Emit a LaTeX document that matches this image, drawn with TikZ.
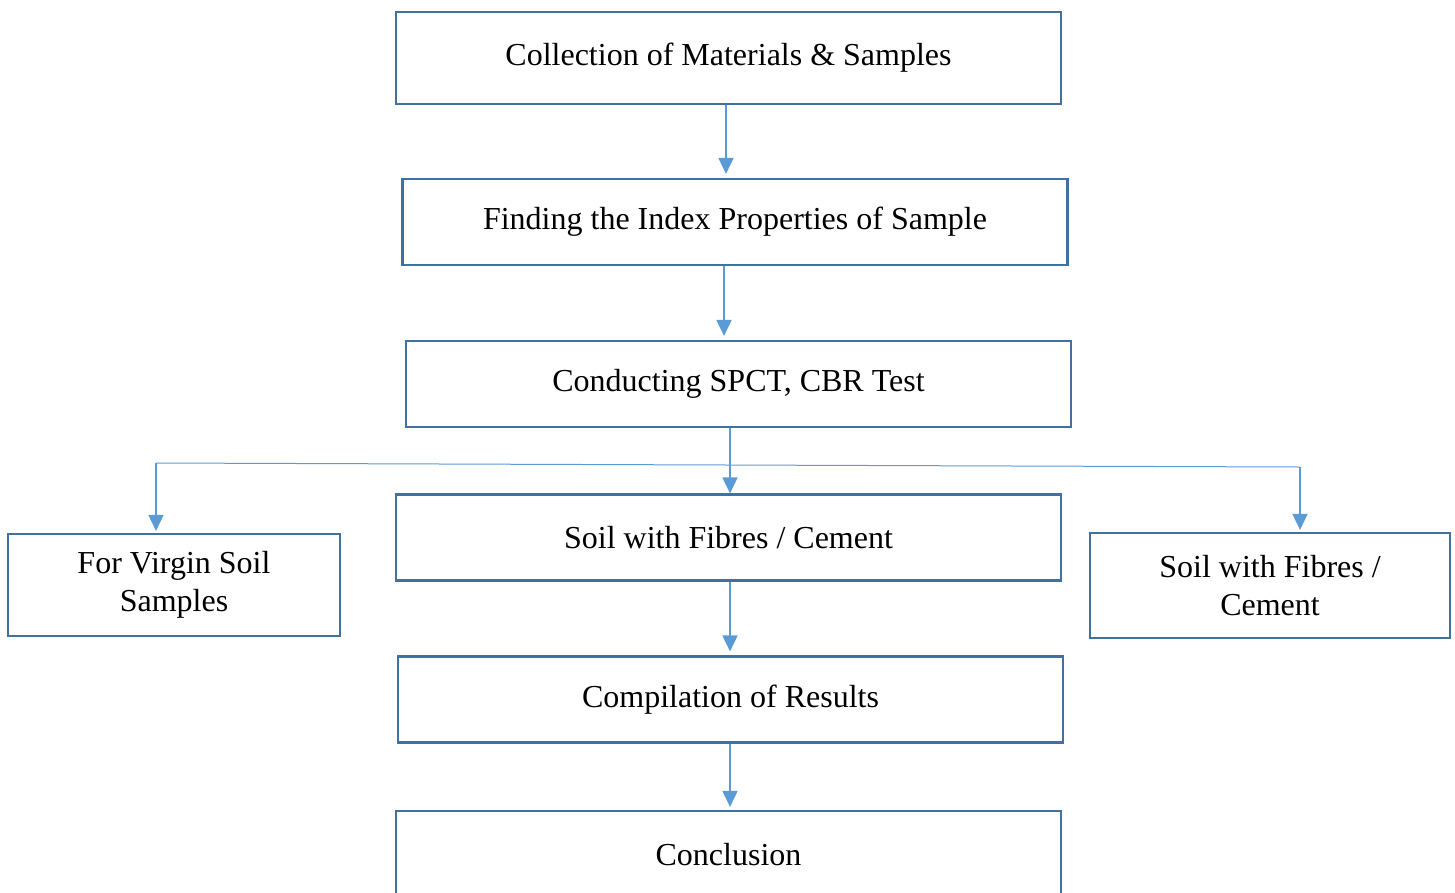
\documentclass[tikz,border=0pt]{standalone}
\usepackage{fontspec}
\setmainfont{Liberation Serif}
\usepackage{tikz}
\usetikzlibrary{calc}
\usetikzlibrary{arrows.meta}
\usetikzlibrary{positioning}
\definecolor{boxblue}{RGB}{65,113,156}
\definecolor{linkblue}{RGB}{91,155,213}

\begin{document}
\begin{tikzpicture}[x=1pt, y=-1pt,
		stagebox/.style={draw=boxblue, line width=2.2pt, minimum width=665pt, minimum height=86pt, align=center, font=\fontsize{32}{38}\selectfont},
		sidebox/.style={stagebox, minimum height=102pt},
		link/.style={linkblue, line width=1.8pt, -{Triangle[width=15pt,length=16pt]}}]
		\useasboundingbox (0,0) rectangle (1455,892);
		\clip (0,0) rectangle (1455,892);

		\node[stagebox, minimum height=92pt] (collect) at (728.5,58) {Collection of Materials \& Samples};
		\node[stagebox] (index) at (735,222) {Finding the Index Properties of Sample};
		\node[stagebox] (tests) at (738.5,384) {Conducting SPCT, CBR Test};
		\node[stagebox] (fibres) at (728.5,537.5) {Soil with Fibres / Cement};
		\node[sidebox, minimum width=332pt] (virgin) at (174,585) {For Virgin Soil\\Samples};
		\node[sidebox, minimum width=360pt, minimum height=105pt] (fibresr) at (1270,585.5) {Soil with Fibres /\\Cement};
		\node[stagebox] (results) at (730.5,699.5) {Compilation of Results};
		\node[stagebox, minimum height=88pt] (concl) at (728.5,855) {Conclusion};

		\coordinate (splitl) at (156,463);
		\coordinate (splitr) at (1300,467);

		\draw[link, shorten >=4pt] (726,0 |- collect.south) -- (726,0 |- index.north);
		\draw[link, shorten >=4pt] (724,0 |- index.south) -- (724,0 |- tests.north);
		\draw[link] (730,0 |- tests.south) -- (730,0 |- fibres.north);
		\draw[linkblue, line width=1pt] (splitl) -- (splitr);
		\draw[link, shorten >=2pt] (splitl) -- (splitl |- virgin.north);
		\draw[link, shorten >=2pt] (splitr) -- (splitr |- fibresr.north);
		\draw[link, shorten >=4pt] (730,0 |- fibres.south) -- (730,0 |- results.north);
		\draw[link, shorten >=3pt] (730,0 |- results.south) -- (730,0 |- concl.north);
	\end{tikzpicture}
\end{document}
